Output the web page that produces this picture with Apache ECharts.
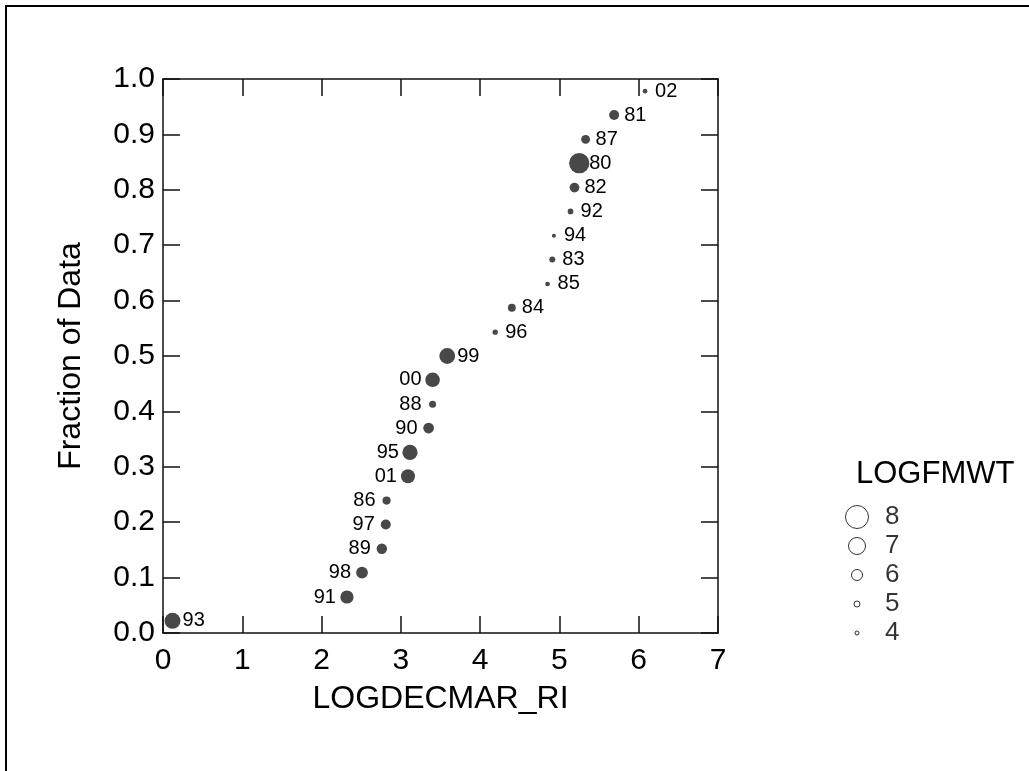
<!DOCTYPE html>
<html>
<head>
<meta charset="utf-8">
<script src="https://cdn.jsdelivr.net/npm/echarts@6/dist/echarts.min.js"></script>
<style>
  html, body { margin: 0; padding: 0; background: #fff; }
  #chart { width: 1029px; height: 771px; }
</style>
</head>
<body>
<div id="chart"></div>
<script>
// points, sorted by fraction of data
var yearLabels = ['93', '91', '98', '89', '97', '86', '01', '95', '90', '88', '00', '99', '96', '84', '85', '83', '94', '92', '82', '80', '87', '81', '02']
var logdecmar = [0.12, 2.32, 2.51, 2.76, 2.81, 2.82, 3.09, 3.115, 3.35, 3.40, 3.40, 3.585, 4.19, 4.40, 4.85, 4.91, 4.93, 5.14, 5.19, 5.25, 5.33, 5.69, 6.08]
var fraction = [0.022, 0.065, 0.109, 0.152, 0.196, 0.239, 0.283, 0.326, 0.370, 0.413, 0.457, 0.500, 0.543, 0.587, 0.630, 0.674, 0.717, 0.761, 0.804, 0.848, 0.891, 0.935, 0.978]
var logfmwt = [6.83, 6.37, 6.13, 5.88, 5.8, 5.43, 6.5, 6.7, 5.95, 5.2, 6.6, 6.8, 4.65, 5.38, 4.35, 5.0, 4.0, 4.85, 5.75, 7.55, 5.57, 5.8, 4.35]
var leftLabeled = ['91', '98', '89', '97', '86', '01', '95', '90', '88', '00']

// size legend
var legendValues = [8, 7, 6, 5, 4]
var legendDiam = [23, 17, 11, 6, 4]

var FONT = 'Liberation Sans, Arial, sans-serif'

function sizeOf (v) {
  // piecewise linear between legend stops
  var stops = legendValues.slice().reverse()
  var diam = legendDiam.slice().reverse()
  if (v <= stops[0]) return diam[0]
  for (var i = 1; i < stops.length; i++) {
    if (v <= stops[i]) {
      var t = (v - stops[i - 1]) / (stops[i] - stops[i - 1])
      return diam[i - 1] + t * (diam[i] - diam[i - 1])
    }
  }
  return diam[diam.length - 1]
}

var pts = []
for (var i = 0; i < yearLabels.length; i++) {
  var onLeft = leftLabeled.indexOf(yearLabels[i]) >= 0
  pts.push({
    value: [logdecmar[i], fraction[i], logfmwt[i]],
    name: yearLabels[i],
    label: {
      align: onLeft ? 'right' : 'left',
      offset: [onLeft ? -11 : 10, 0]
    }
  })
}

var legendPts = []
for (var k = 0; k < legendValues.length; k++) {
  legendPts.push([0, legendValues[k], legendDiam[k]])
}

var axisLine = { onZero: false, lineStyle: { color: '#111', width: 1.5 } }
var tick = { inside: true, length: 17, lineStyle: { color: '#111', width: 1.5 } }

var option = {
  animation: false,
  backgroundColor: '#fff',
  title: {
    text: 'LOGFMWT',
    left: 856,
    top: 459,
    padding: 0,
    textStyle: { fontFamily: FONT, fontSize: 31, fontWeight: 'normal', color: '#000' }
  },
  grid: [
    { left: 163, top: 79, right: 311, bottom: 138 },
    { left: 857, top: 517, width: 40, height: 116 }
  ],
  xAxis: [
    {
      gridIndex: 0, type: 'value', min: 0, max: 7, interval: 1,
      name: 'LOGDECMAR_RI', nameLocation: 'middle', nameGap: 50,
      nameTextStyle: { fontFamily: FONT, fontSize: 32, color: '#000' },
      axisLine: axisLine, axisTick: tick, splitLine: { show: false },
      axisLabel: { fontFamily: FONT, fontSize: 30, color: '#000', margin: 13 }
    },
    {
      gridIndex: 0, type: 'value', min: 0, max: 7, interval: 1, position: 'top',
      axisLine: axisLine, axisTick: tick, splitLine: { show: false }, axisLabel: { show: false }
    },
    { gridIndex: 1, type: 'value', min: 0, max: 1, show: false }
  ],
  yAxis: [
    {
      gridIndex: 0, type: 'value', min: 0, max: 1, interval: 0.1,
      name: 'Fraction of Data', nameLocation: 'middle', nameGap: 76,
      nameTextStyle: { fontFamily: FONT, fontSize: 32, color: '#000' },
      axisLine: axisLine, axisTick: tick, splitLine: { show: false },
      axisLabel: {
        fontFamily: FONT, fontSize: 30, color: '#000', margin: 8,
        formatter: function (v) { return v.toFixed(1) }
      }
    },
    {
      gridIndex: 0, type: 'value', min: 0, max: 1, interval: 0.1, position: 'right',
      axisLine: axisLine, axisTick: tick, splitLine: { show: false }, axisLabel: { show: false }
    },
    { gridIndex: 1, type: 'value', min: 4, max: 8, show: false }
  ],
  series: [
    {
      type: 'scatter',
      xAxisIndex: 0,
      yAxisIndex: 0,
      data: pts,
      symbol: 'circle',
      symbolSize: function (val) { return sizeOf(val[2]) },
      itemStyle: { color: '#484848', opacity: 1 },
      label: {
        show: true,
        position: 'inside',
        verticalAlign: 'middle',
        formatter: '{b}',
        fontFamily: FONT,
        fontSize: 20,
        color: '#000'
      }
    },
    {
      type: 'scatter',
      xAxisIndex: 2,
      yAxisIndex: 2,
      data: legendPts,
      symbol: 'circle',
      symbolSize: function (val) { return val[2] },
      itemStyle: { color: 'rgba(0,0,0,0)', borderColor: '#000', borderWidth: 1 },
      label: {
        show: true,
        position: 'inside',
        align: 'left',
        verticalAlign: 'middle',
        offset: [28, 0],
        formatter: function (p) { return String(p.value[1]) },
        fontFamily: FONT,
        fontSize: 26,
        color: '#000'
      }
    }
  ],
  graphic: [
    {
      type: 'rect',
      shape: { x: 6, y: 6, width: 1100, height: 900 },
      style: { fill: 'none', stroke: '#000', lineWidth: 2 },
      silent: true
    }
  ]
}

var myChart = echarts.init(document.getElementById('chart'))
myChart.setOption(option)
</script>
</body>
</html>
